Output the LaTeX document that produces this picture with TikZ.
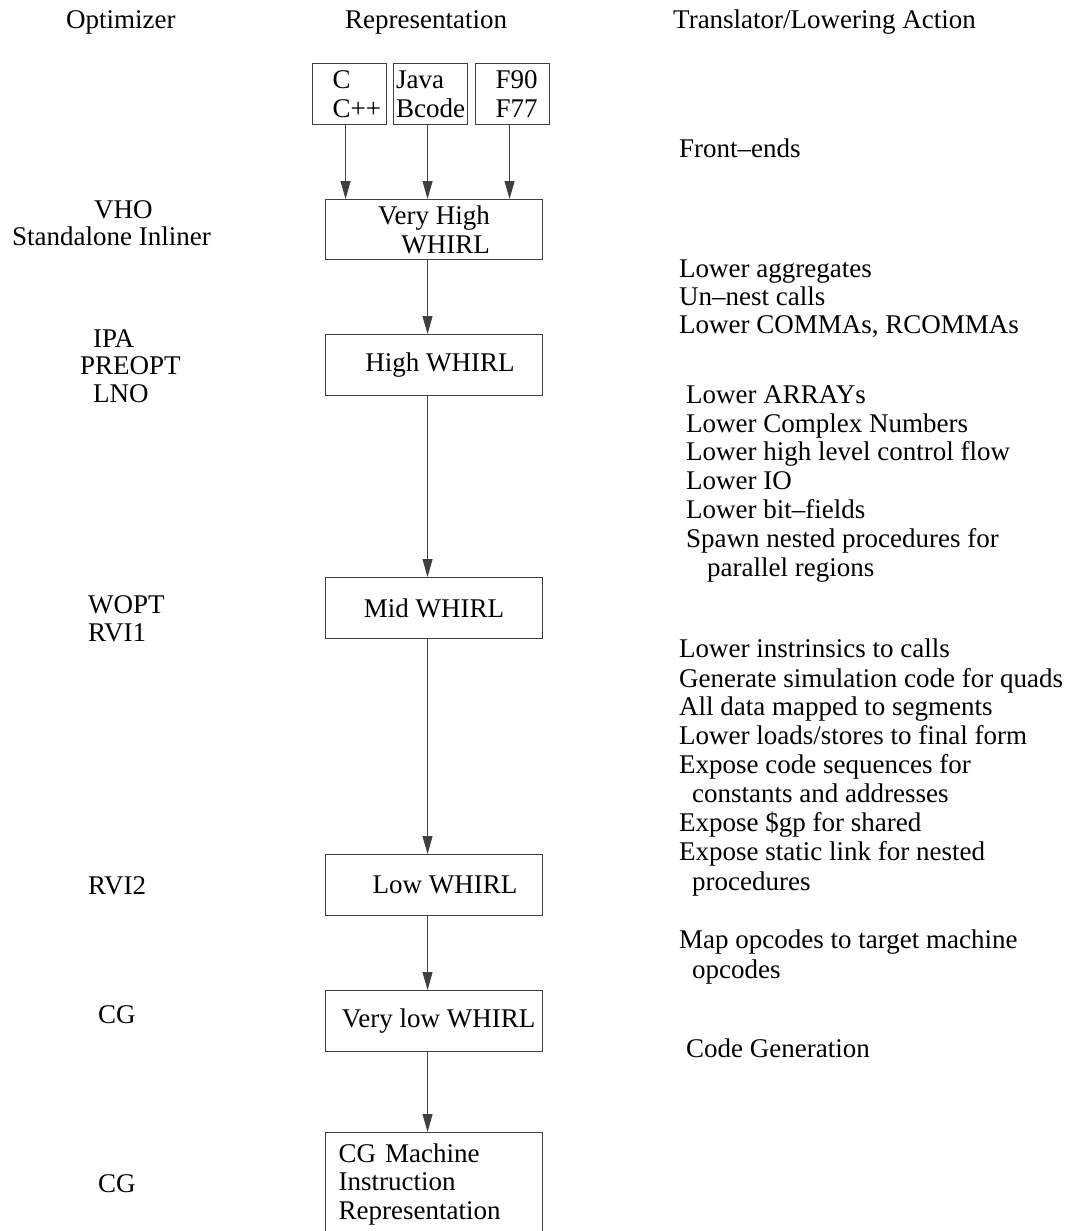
\documentclass[tikz,border=0pt]{standalone}
\usepackage{fontspec}
\setmainfont{Liberation Serif}
\usetikzlibrary{arrows.meta}
\begin{document}
\begin{tikzpicture}[x=1pt,y=-1pt,
  every node/.style={font=\fontsize{27}{28.8}\selectfont, inner sep=0pt},
  txt/.style={anchor=base west},
  box/.style={draw=black!75, line width=1.1pt, anchor=north west, align=center},
  conn/.style={draw=black!75, line width=1.1pt, -{Triangle[length=18pt,width=10pt]}}]
\useasboundingbox[fill=white] (0,0) rectangle (1072,1231);

% column headers
\node[txt] (hopt) at (66,29) {Optimizer};
\node[txt] (hrep) at (345,29) {Representation};
\node[txt] (htra) at (673,29) {Translator/Lowering Action};

% source language boxes
\node[box, align=left, minimum width=74.3pt, minimum height=61pt] (cb) at (311.7,63) {\hspace*{15pt}C\\\hspace*{15pt}C++};
\node[box, align=left, minimum width=74pt, minimum height=61pt] (jb) at (393,63) {Java\\Bcode};
\node[box, align=left, minimum width=74pt, minimum height=61pt] (fb) at (475,63) {\hspace*{8pt}F90\\\hspace*{8pt}F77};

% representation boxes
\node[box, align=right, minimum width=217pt, minimum height=60pt] (vh) at (325,199) {Very High\\WHIRL};
\node[box, minimum width=217pt, minimum height=61pt] (hw) at (325,334) {\hspace*{12pt}High WHIRL};
\node[box, minimum width=217pt, minimum height=61pt] (mw) at (325,577) {Mid WHIRL};
\node[box, minimum width=217pt, minimum height=61pt] (lw) at (325,854) {\hspace*{22pt}Low WHIRL};
\node[box, minimum width=217pt, minimum height=61pt] (vlw) at (325,990) {\hspace*{9pt}Very low WHIRL};
\node[box, align=left, text width=191pt, minimum width=217pt, minimum height=103.6pt] (cgm) at (325,1132) {CG Machine\\Instruction\\Representation};

% connectors
\draw[conn] ([xshift=-3.85pt]cb.south) -- ([xshift=-3.85pt]cb.south |- vh.north);
\draw[conn] ([xshift=-3pt]jb.south) -- ([xshift=-3pt]jb.south |- vh.north);
\draw[conn] ([xshift=-3pt]fb.south) -- ([xshift=-3pt]fb.south |- vh.north);
\draw[conn] ([xshift=-6.5pt]vh.south) -- ([xshift=-6.5pt]hw.north);
\draw[conn] ([xshift=-6.5pt]hw.south) -- ([xshift=-6.5pt]mw.north);
\draw[conn] ([xshift=-6.5pt]mw.south) -- ([xshift=-6.5pt]lw.north);
\draw[conn] ([xshift=-6.5pt]lw.south) -- ([xshift=-6.5pt]vlw.north);
\draw[conn] ([xshift=-6.5pt]vlw.south) -- ([xshift=-6.5pt]cgm.north);

% optimizer column
\node[txt] (o1) at (94,218) {VHO};
\node[txt] (o2) at (12,245) {Standalone Inliner};
\node[txt] (o3) at (93,347) {IPA};
\node[txt] (o4) at (80,374) {PREOPT};
\node[txt] (o5) at (93,402) {LNO};
\node[txt] (o6) at (88,613) {WOPT};
\node[txt] (o7) at (88,641) {RVI1};
\node[txt] (o8) at (88,894) {RVI2};
\node[txt] (o9) at (98,1023) {CG};
\node[txt] (o10) at (98,1192) {CG};

% translator / lowering actions
\node[txt] (a1) at (679,157) {Front–ends};

\node[txt] (b1) at (679,277) {Lower aggregates};
\node[txt] (b2) at (679,305) {Un–nest calls};
\node[txt] (b3) at (679,333) {Lower COMMAs, RCOMMAs};

\node[txt] (c1) at (686,403) {Lower ARRAYs};
\node[txt] (c2) at (686,432) {Lower Complex Numbers};
\node[txt] (c3) at (686,460) {Lower high level control flow};
\node[txt] (c4) at (686,489) {Lower IO};
\node[txt] (c5) at (686,518) {Lower bit–fields};
\node[txt] (c6) at (686,547) {Spawn nested procedures for};
\node[txt] (c7) at (707,576) {parallel regions};

\node[txt] (d1) at (679,657) {Lower instrinsics to calls};
\node[txt] (d2) at (679,687) {Generate simulation code for quads};
\node[txt] (d3) at (679,715) {All data mapped to segments};
\node[txt] (d4) at (679,744) {Lower loads/stores to final form};
\node[txt] (d5) at (679,773) {Expose code sequences for};
\node[txt] (d6) at (692,802) {constants and addresses};
\node[txt] (d7) at (679,831) {Expose \$gp for shared};
\node[txt] (d8) at (679,860) {Expose static link for nested};
\node[txt] (d9) at (692,890) {procedures};

\node[txt] (e1) at (679,948) {Map opcodes to target machine};
\node[txt] (e2) at (692,978) {opcodes};

\node[txt] (f1) at (686,1057) {Code Generation};
\end{tikzpicture}
\end{document}
